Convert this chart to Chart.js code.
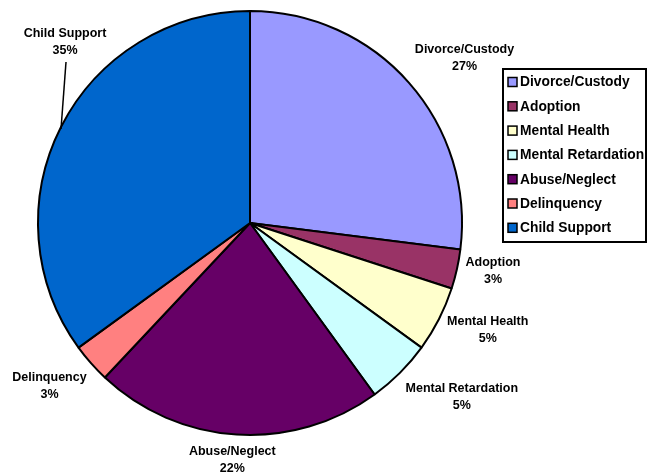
<!DOCTYPE html>
<html>
<head>
<meta charset="utf-8">
<script src="https://cdn.jsdelivr.net/npm/chart.js@4/dist/chart.umd.min.js"></script>
<style>
  html,body{margin:0;padding:0;background:#fff;}
  #wrap{width:647px;height:474px;position:relative;}
</style>
</head>
<body>
<div id="wrap"><canvas id="pie" width="647" height="474"></canvas></div>
<script>
// categories + shares (%)
const categories = ["Divorce/Custody","Adoption","Mental Health","Mental Retardation","Abuse/Neglect","Delinquency","Child Support"];
const shares     = [27, 3, 5, 5, 22, 3, 35];
const colors     = ["#9999FF","#993366","#FFFFCC","#CCFFFF","#660066","#FF8080","#0066CC"];

const FONT = "bold 12.5px 'Liberation Sans', Arial, sans-serif";

// label nudges relative to the radial spot (px), Child Support uses a leader line
const labelNudge = [[27,0],[-1,-7],[15,-7],[35,-3],[-2,-13],[-13,-3],[0,0]];

const sliceLabels = {
  id: "sliceLabels",
  afterDatasetsDraw(chart){
    const ctx = chart.ctx;
    const meta = chart.getDatasetMeta(0);
    ctx.save();
    ctx.font = FONT;
    ctx.fillStyle = "#000";
    ctx.textAlign = "center";
    ctx.textBaseline = "middle";
    meta.data.forEach((arc, i) => {
      const {x, y, startAngle, endAngle, outerRadius} = arc.getProps(["x","y","startAngle","endAngle","outerRadius"], true);
      const mid = (startAngle + endAngle) / 2;
      let lx, ly;
      if (i === 6){
        // pulled-out label with leader line
        lx = x - 185; ly = y - 181;
        const ex = lx - 4;
        const ey = y - Math.sqrt(Math.max(outerRadius*outerRadius - (ex-x)*(ex-x), 0));
        ctx.beginPath();
        ctx.strokeStyle = "#000";
        ctx.lineWidth = 1.5;
        ctx.moveTo(lx + 1, ly + 20);
        ctx.lineTo(ex, ey + 2);
        ctx.stroke();
      } else {
        const d = outerRadius + 38;
        lx = x + Math.cos(mid) * d + labelNudge[i][0];
        ly = y + Math.sin(mid) * d + labelNudge[i][1];
      }
      ctx.fillText(categories[i], lx, ly - 8);
      ctx.fillText(shares[i] + "%", lx, ly + 9);
    });
    ctx.restore();
  }
};

// boxed legend at the right
const boxLegend = {
  id: "boxLegend",
  afterDraw(chart){
    const ctx = chart.ctx;
    const bx = 503, by = 69, bw = 143, bh = 173;
    ctx.save();
    ctx.lineWidth = 2;
    ctx.strokeStyle = "#000";
    ctx.strokeRect(bx, by, bw, bh);
    ctx.font = "bold 13.8px 'Liberation Sans', Arial, sans-serif";
    ctx.textBaseline = "middle";
    ctx.textAlign = "left";
    categories.forEach((c, i) => {
      const cy = by + 13 + i * 24.3;
      ctx.fillStyle = colors[i];
      ctx.fillRect(bx + 5, cy - 4.5, 9, 9);
      ctx.lineWidth = 1.5;
      ctx.strokeRect(bx + 5, cy - 4.5, 9, 9);
      ctx.fillStyle = "#000";
      ctx.fillText(c, bx + 17, cy + 0.5);
    });
    ctx.restore();
  }
};

new Chart(document.getElementById("pie"), {
  type: "pie",
  data: {
    labels: categories,
    datasets: [{
      data: shares,
      backgroundColor: colors,
      borderColor: "#000",
      borderWidth: 2
    }]
  },
  options: {
    responsive: false,
    animation: false,
    layout: { padding: { left: 37, right: 184, top: 10, bottom: 38 } },
    plugins: {
      legend: { display: false },
      tooltip: { enabled: false }
    }
  },
  plugins: [sliceLabels, boxLegend]
});
</script>
</body>
</html>
